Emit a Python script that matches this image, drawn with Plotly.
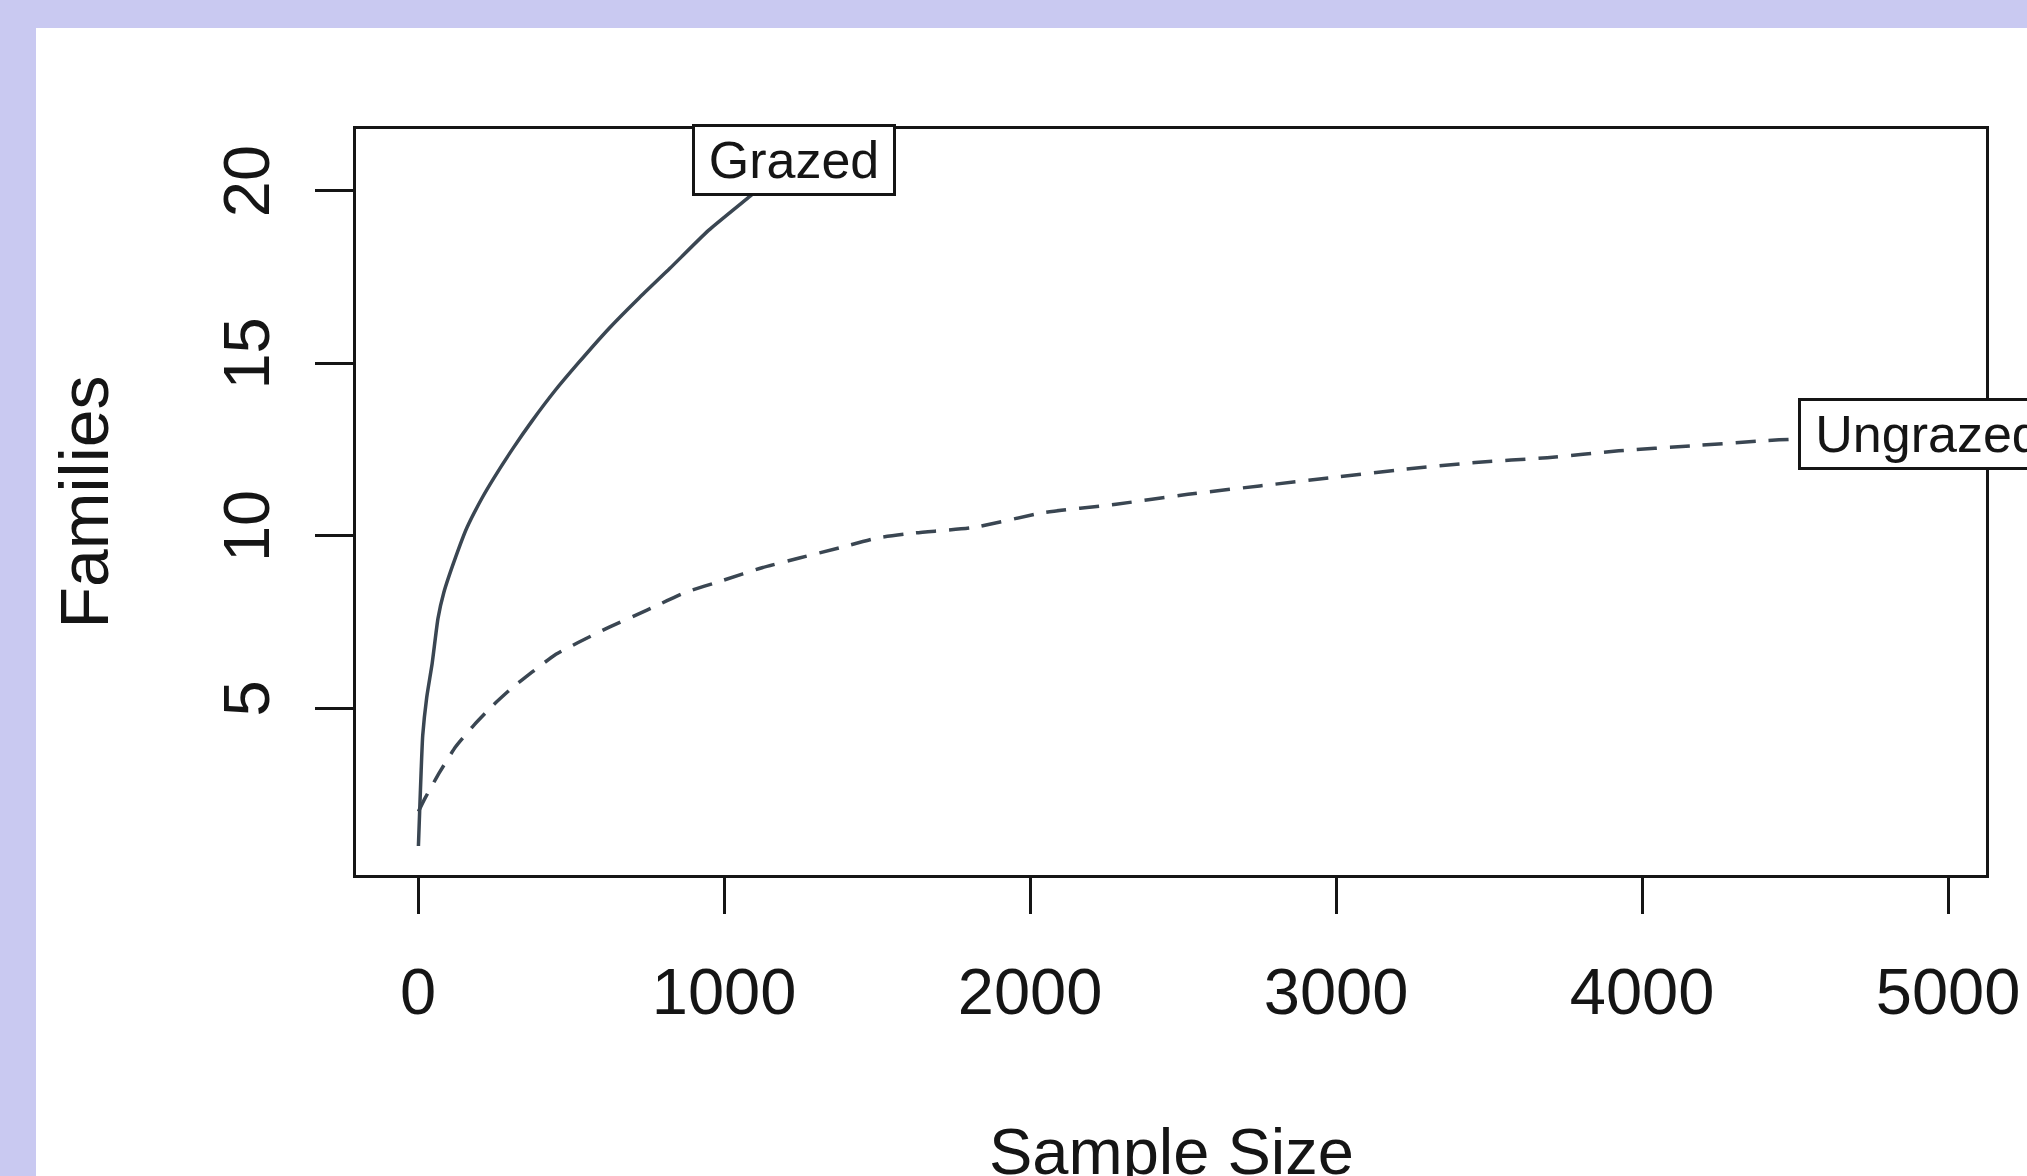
import plotly.graph_objects as go

# ---- data ----
grazed_n = [1, 5, 10, 15, 28, 46, 65, 84, 122, 159, 209, 247, 310, 372, 447, 523, 623, 723, 823, 949, 1086, 1230]
grazed_s = [1.0, 2.0, 3.2, 4.2, 5.3, 6.3, 7.6, 8.35, 9.36, 10.22, 11.09, 11.66, 12.53, 13.32, 14.2, 15.0, 16.0,
            16.9, 17.75, 18.85, 19.85, 20.9]

ungrazed_n = [1, 21, 71, 122, 184, 247, 310, 372, 447, 523, 623, 748, 873, 999, 1124, 1249, 1375, 1500, 1625,
              1811, 2046, 2281, 2516, 2750, 2985, 3220, 3455, 3690, 3924, 4159, 4394, 4500, 4933]
ungrazed_s = [2.0, 2.36, 3.15, 3.87, 4.52, 5.10, 5.61, 6.04, 6.54, 6.90, 7.34, 7.84, 8.35, 8.71, 9.07, 9.36,
              9.64, 9.93, 10.08, 10.23, 10.67, 10.91, 11.20, 11.44, 11.68, 11.92, 12.12, 12.26, 12.46, 12.60,
              12.75, 12.80, 12.96]

series_names = ["Grazed", "Ungrazed"]
label_box_widths = [190, 246]
x_ticks = [0, 1000, 2000, 3000, 4000, 5000]
y_ticks = [5, 10, 15, 20]
x_title = "Sample Size"
y_title = "Families"

FONT = "Liberation Sans, Arial, sans-serif"
LINE_COL = "#3a4652"
INK = "#151515"

W, H = 2027, 1176
ML, MR, MT, MB = 356, 41, 129, 301
PW, PH = W - ML - MR, H - MT - MB

fig = go.Figure()
fig.add_trace(go.Scatter(x=ungrazed_n, y=ungrazed_s, mode="lines", name=series_names[1],
                         line=dict(color=LINE_COL, width=3.5, dash="20px,13px", shape="spline", smoothing=0.5)))
fig.add_trace(go.Scatter(x=grazed_n, y=grazed_s, mode="lines", name=series_names[0],
                         line=dict(color=LINE_COL, width=3.5, shape="spline", smoothing=0.5)))

# boxed end labels at the end of each curve
for name, xs, ys, bw in [(series_names[0], grazed_n, grazed_s, label_box_widths[0]),
                         (series_names[1], ungrazed_n, ungrazed_s, label_box_widths[1])]:
    fig.add_annotation(x=xs[-1], y=ys[-1], xref="x", yref="y", text=name, showarrow=False,
                       xanchor="center", yanchor="middle", width=bw, align="center",
                       font=dict(family=FONT, size=52, color=INK),
                       bgcolor="white", bordercolor=INK, borderwidth=3, borderpad=4)

# x-axis title placed below the tick labels (partly beyond the page bottom, as in the reference)
fig.add_annotation(x=0.5, y=(H - MB - 1151) / PH, xref="paper", yref="paper", text=x_title,
                   showarrow=False, xanchor="center", yanchor="middle",
                   font=dict(family=FONT, size=65, color=INK))

# white panel on lavender page (panel starts at x=36px, y=28px)
fig.add_shape(type="rect", xref="paper", yref="paper",
              x0=(36 - ML) / PW, x1=1 + (MR + 20) / PW,
              y0=-(MB + 20) / PH, y1=1 + (MT - 28) / PH,
              fillcolor="white", line=dict(width=0), layer="below")

fig.update_layout(
    width=W, height=H,
    paper_bgcolor="#c9c9f1", plot_bgcolor="white",
    margin=dict(l=ML, r=MR, t=MT, b=MB, autoexpand=False),
    showlegend=False,
    font=dict(family=FONT, color=INK),
)
fig.update_xaxes(
    range=[-203, 5124], tickvals=x_ticks, ticktext=[str(v) for v in x_ticks],
    showgrid=False, zeroline=False, showline=True, mirror=True, linecolor=INK, linewidth=3,
    ticks="outside", ticklen=36, tickwidth=3, tickcolor=INK,
    tickfont=dict(family=FONT, size=65, color=INK), ticklabelstandoff=22,
)
fig.update_yaxes(
    range=[0.16, 21.79], tickvals=y_ticks, ticktext=[str(v) for v in y_ticks], tickangle=-90,
    showgrid=False, zeroline=False, showline=True, mirror=True, linecolor=INK, linewidth=3,
    ticks="outside", ticklen=38, tickwidth=3, tickcolor=INK,
    tickfont=dict(family=FONT, size=65, color=INK), ticklabelstandoff=20,
    title=dict(text=y_title, font=dict(family=FONT, size=68, color=INK), standoff=80),
)

fig.write_html("out.html", config={"displayModeBar": False},
               post_script="document.body.style.margin='0';document.body.style.overflow='hidden';")
